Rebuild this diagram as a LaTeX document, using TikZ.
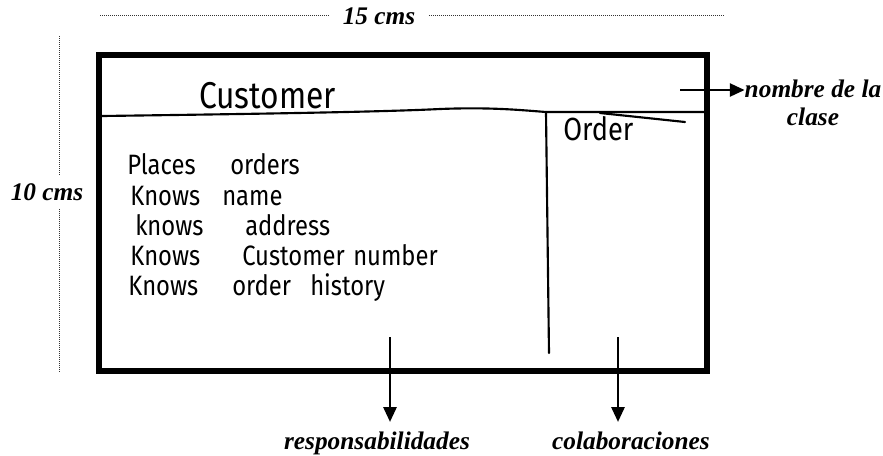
\documentclass[tikz,border=0pt]{standalone}
\usepackage{fontspec}
\setmainfont{Liberation Serif}
\newfontfamily\handfont[FakeStretch=0.85]{Fira Sans}
\usetikzlibrary{arrows.meta}
\begin{document}
\begin{tikzpicture}[x=0.75pt,y=-0.75pt,
  lbl/.style={font=\fontsize{19}{21}\selectfont\bfseries\itshape, inner sep=0pt},
  dim/.style={line width=0.7pt, dash pattern=on 0.7pt off 0.8pt, black!80},
  arr/.style={line width=1.1pt, -{Triangle[length=11pt,width=10pt]}},
  pen/.style={line width=1.6pt, line cap=round, line join=round},
  hw/.style={font=\handfont\fontsize{21}{24}\selectfont, inner sep=0pt, anchor=base west},
  card/.style={line width=4.5pt},
]
\useasboundingbox (0,0) rectangle (883,455);

% dimension: width
\node[lbl, inner xsep=10pt] (w) at (379,16) {15 cms};
\coordinate (wl) at (100,15);
\coordinate (wr) at (723,15);
\draw[dim] (wl) -- (wl -| w.west);
\draw[dim] (wr -| w.east) -- (wr);

% dimension: height
\node[lbl, inner ysep=6pt] (h) at (47,192) {10 cms};
\coordinate (ht) at (59,36);
\coordinate (hb) at (59,372);
\draw[dim] (ht) -- (ht |- h.north);
\draw[dim] (h.south -| hb) -- (hb);

% the card
\draw[card] (99,55) rectangle (707,371);

% hand-drawn divisions
\draw[pen] (102,116) .. controls (250,114) and (380,112) .. (440,109)
  .. controls (490,107) and (520,110) .. (546,112) -- (704,112);
\draw[pen] (600,113) -- (685,122);
\draw[pen] (546,112) -- (549,353);

% handwriting
\node[hw, font=\handfont\fontsize{28}{30}\selectfont] (cust) at (199,108) {Customer};
\node[hw, font=\handfont\fontsize{24}{26}\selectfont] (ord) at (563,140) {Order};

\node[hw] (r1a) at (127,174) {Places};
\node[hw] (r1b) at (230,174) {orders};
\node[hw] (r2a) at (130,205) {Knows};
\node[hw] (r2b) at (222,205) {name};
\node[hw] (r3a) at (135,235) {knows};
\node[hw] (r3b) at (245,235) {address};
\node[hw] (r4a) at (130,265) {Knows};
\node[hw] (r4b) at (242,265) {Customer};
\node[hw] (r4c) at (353,265) {number};
\node[hw] (r5a) at (128,295) {Knows};
\node[hw] (r5b) at (232,295) {order};
\node[hw] (r5c) at (310,295) {history};

% labels and arrows
\coordinate (n0) at (680,90);
\node[lbl, align=center, anchor=north] (nom) at (813,80) {nombre de la\\clase};
\draw[arr] (n0) -- (n0 -| nom.west);

\coordinate (r0) at (390,337);
\coordinate (c0) at (618,337);
\node[lbl, anchor=base] (resp) at (377,449) {responsabilidades};
\node[lbl, anchor=base] (colab) at (631,449) {colaboraciones};
\draw[arr, shorten >=7pt] (r0) -- (r0 |- resp.north);
\draw[arr, shorten >=7pt] (c0) -- (c0 |- colab.north);
\end{tikzpicture}
\end{document}
